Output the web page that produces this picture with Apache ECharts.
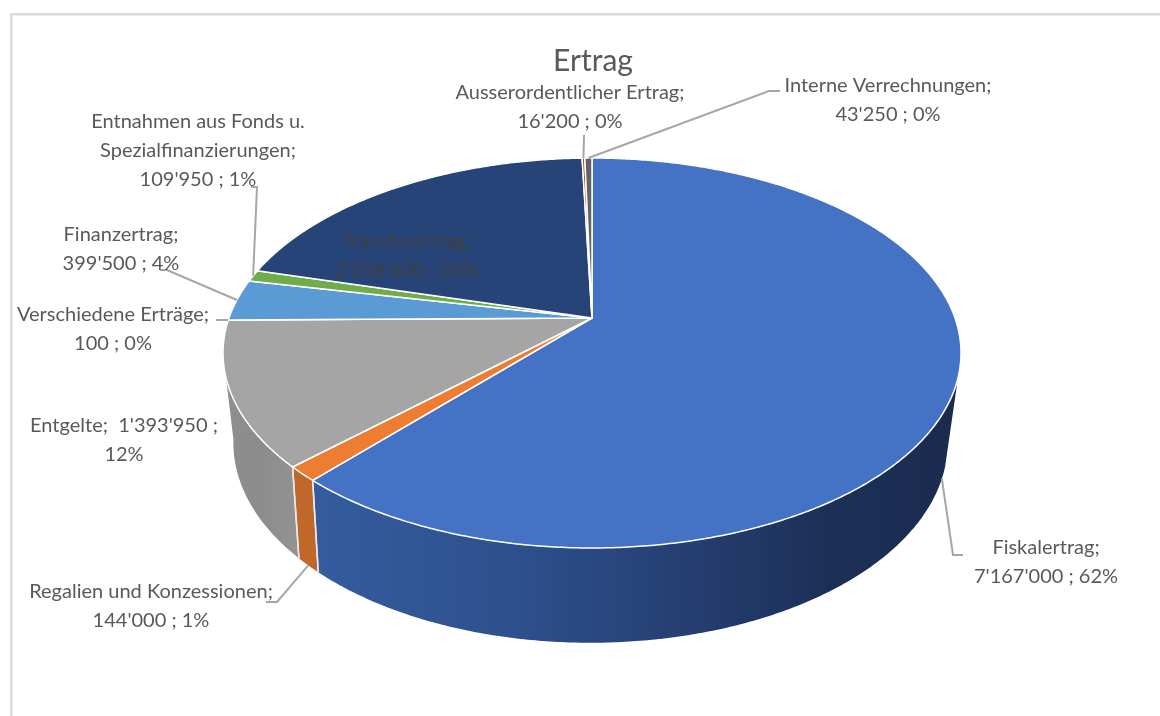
<!DOCTYPE html>
<html>
<head>
<meta charset="utf-8">
<style>html,body{margin:0;padding:0;background:#fff}#c{width:1160px;height:716px}</style>
<script src="https://cdn.jsdelivr.net/npm/echarts@6/dist/echarts.min.js"></script>
</head>
<body>
<div id="c"></div>
<script>
const categories = ['Fiskalertrag','Regalien und Konzessionen','Entgelte','Verschiedene Erträge','Finanzertrag','Entnahmen aus Fonds u. Spezialfinanzierungen','Transferertrag','Ausserordentlicher Ertrag','Interne Verrechnungen'];
const values = [7167000,144000,1393950,100,399500,109950,2358600,16200,43250];
const labelTexts = [
  "Fiskalertrag;\n7'167'000 ; 62%",
  "Regalien und Konzessionen;\n144'000 ; 1%",
  "Entgelte;  1'393'950 ;\n12%",
  "Verschiedene Erträge;\n100 ; 0%",
  "Finanzertrag;\n399'500 ; 4%",
  "Entnahmen aus Fonds u.\nSpezialfinanzierungen;\n109'950 ; 1%",
  "Transferertrag;\n2'358'600 ; 20%",
  "Ausserordentlicher Ertrag;\n16'200 ; 0%",
  "Interne Verrechnungen;\n43'250 ; 0%"
];
const topColors = ['#4472c4','#ed7d31','#a5a5a5','#ffc000','#5b9bd5','#70ad47','#264478','#9e480e','#636363'];
const labelCenters = [[1046,562],[151,606],[124,440],[113,329],[121,249],[198,151],[407,256],[570,107],[888,100]];
// leader: elbow points in page space; first point derived from the slice edge (leaderWall 1 → bottom ring, 0 → top ring)
const leaderElbows = [[[953,555],[963,555]],[[277,602],[266,602]],null,[[216,320]],[[167,270],[160,270]],[[257,187],[251,187]],null,[[584,135]],[[769,91],[780,91]]];
const leaderWall = [1,1,0,0,0,0,0,0,0];

const CX=592, CY=318, BX=363, AY=188.7, K=0.1795, BOT_CX=590.5, BOT_BX=350.6, BOT_AY=192.6, BOT_K=0.19, BOT_Y=405, FRONT_A=107.5, FRONT_B=252.5, BOT_FRONT_B=260;
const total = values.reduce((a,b)=>a+b,0);
const rad = d=>d*Math.PI/180;
function ringTop(deg){const x=Math.sin(rad(deg)),y=-Math.cos(rad(deg)),w=1-K*y;return [CX+BX*x/w,CY+AY*y/w];}
function ringBot(deg){const x=Math.sin(rad(deg)),y=-Math.cos(rad(deg)),w=1-BOT_K*y;return [BOT_CX+BOT_BX*x/w,BOT_Y+BOT_AY*y/w];}
function arc(fn,a,b){const n=Math.max(2,Math.ceil(Math.abs(b-a)*2)),p=[];for(let i=0;i<=n;i++)p.push(fn(a+(b-a)*i/n));return p;}
const starts=[];let acc=0;values.forEach(v=>{starts.push(acc/total*360);acc+=v;});
const wallFills = {
  0:{type:'linear',x:312,y:0,x2:955,y2:0,global:true,colorStops:[{offset:0,color:'#345c9f'},{offset:0.3,color:'#2e518d'},{offset:0.6,color:'#253d70'},{offset:0.8,color:'#1c3057'},{offset:1,color:'#1a2b4e'}]},
  1:'#c0682a',
  2:{type:'linear',x:232,y:0,x2:295,y2:0,global:true,colorStops:[{offset:0,color:'#8e8e8e'},{offset:0.4,color:'#8c8c8c'},{offset:1,color:'#929292'}]}
};
const LINE='#a6a6a6', TXT='#595959';

function renderSlice(params, api){
  const i=params.dataIndex, v=api.value(1), a0=starts[i], a1=a0+v/total*360, mid=(a0+a1)/2;
  const kids=[];
  const pts=[[CX,CY]].concat(arc(ringTop,a0,a1));
  kids.push({type:'polygon',z2:10,shape:{points:pts},style:{fill:topColors[i],stroke:'#fff',lineWidth:1.5,lineJoin:'round'}});
  const wa=Math.max(a0,FRONT_A), wb=Math.min(a1,FRONT_B), wbBot=Math.min(a1,BOT_FRONT_B);
  if(wb>wa){
    const poly=arc(ringTop,wa,wb).concat(arc(ringBot,wa,wbBot).reverse());
    kids.push({type:'polygon',z2:5,shape:{points:poly},style:{fill:wallFills[i]||topColors[i],lineWidth:0}});
    [a0,a1].forEach(d=>{ if(d>FRONT_A&&d<FRONT_B) kids.push({type:'line',z2:7,shape:{x1:ringTop(d)[0],y1:ringTop(d)[1],x2:ringBot(d)[0],y2:ringBot(d)[1]},style:{stroke:'#e9e9e9',lineWidth:1.5}}); });
  }
  if(leaderElbows[i]){
    const start=leaderWall[i]?ringBot(mid):ringTop(mid);
    kids.push({type:'polyline',z2:20,shape:{points:[start].concat(leaderElbows[i])},style:{fill:null,stroke:LINE,lineWidth:2}});
  }
  const c=labelCenters[i];
  kids.push({type:'text',z2:30,x:c[0],y:c[1],style:{text:labelTexts[i],x:0,y:0,align:'center',verticalAlign:'middle',font:'20px Lato',lineHeight:29,fill:i===6?'#404040':TXT}});
  return {type:'group',children:kids};
}

const chart=echarts.init(document.getElementById('c'),null,{renderer:'canvas'});
chart.setOption({
  animation:false,
  backgroundColor:'#ffffff',
  title:{text:'Ertrag',left:588,top:56,textAlign:'center',textVerticalAlign:'middle',textStyle:{fontFamily:'Lato',fontSize:30,fontWeight:'normal',color:'#595959'}},
  graphic:[
    {type:'rect',shape:{x:10,y:13,width:1150,height:2.5},style:{fill:'#dcdcdc'}},
    {type:'rect',shape:{x:10,y:13,width:2.5,height:703},style:{fill:'#dcdcdc'}}
  ],
  series:[{
    type:'custom',coordinateSystem:'none',renderItem:renderSlice,
    data:categories.map((n,i)=>[n,values[i]]),
    encode:{itemName:0,value:1}
  }]
});
</script>
</body>
</html>
